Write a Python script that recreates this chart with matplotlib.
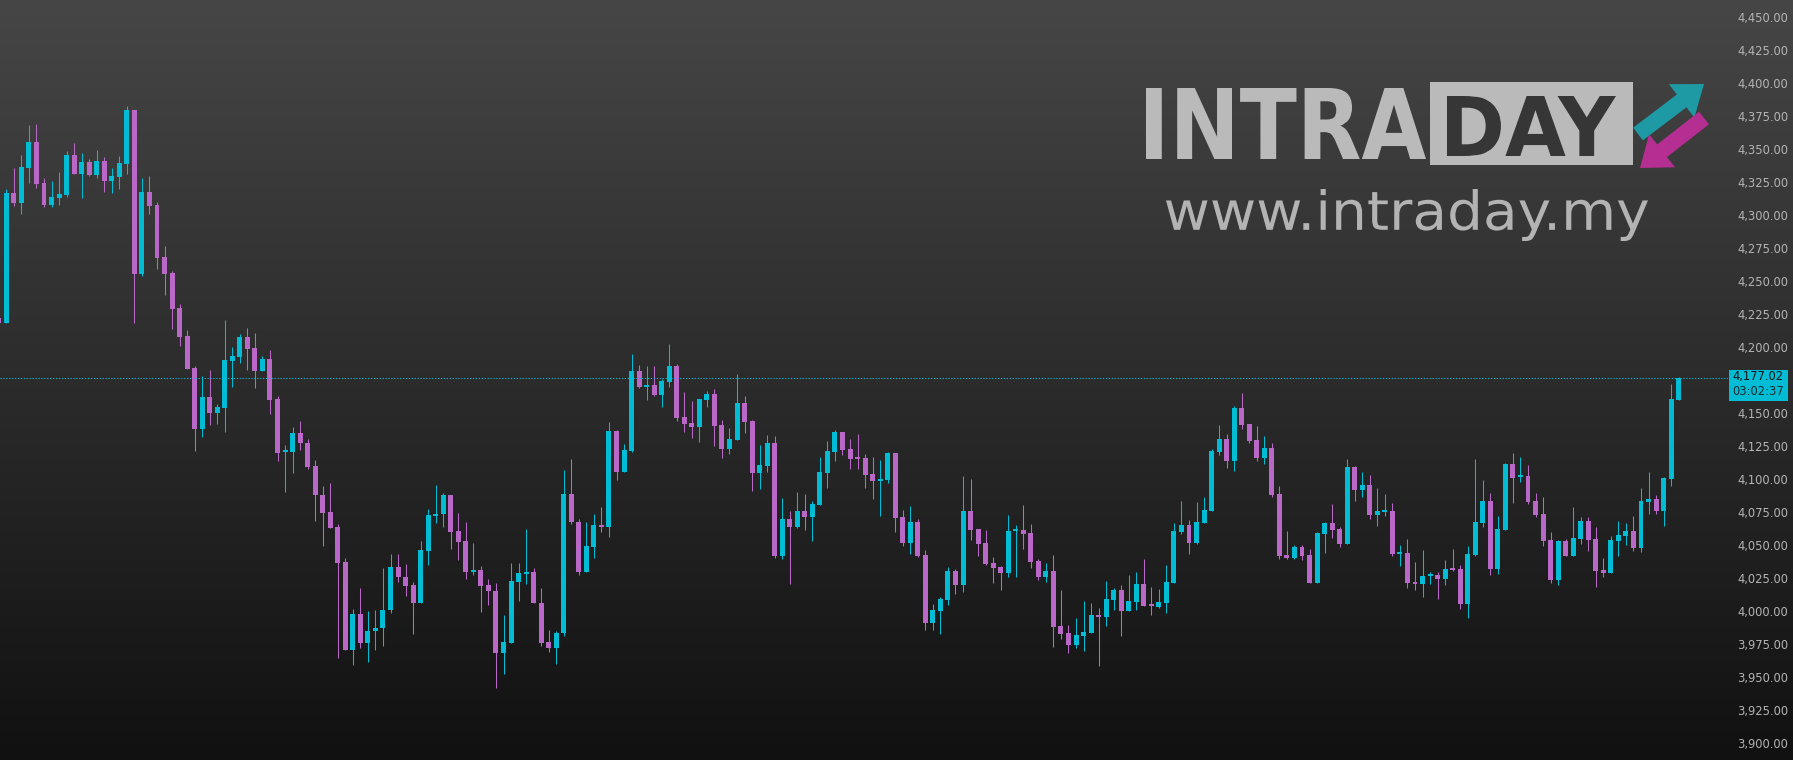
import numpy as np
import matplotlib
matplotlib.use('Agg')
import matplotlib.pyplot as plt
from matplotlib.ticker import FuncFormatter
from matplotlib.patches import Rectangle, PathPatch, FancyArrow
from matplotlib.textpath import TextPath
from matplotlib.font_manager import FontProperties
from matplotlib.transforms import Affine2D

# candle data, oldest first
opens = [4222.0, 4218.7, 4316.9, 4309.6, 4336.1, 4355.5, 4324.4, 4308.0, 4313.3, 4315.6,
         4345.7, 4331.5, 4340.4, 4330.8, 4341.1, 4326.2, 4329.3, 4339.1, 4379.7, 4255.8,
         4317.6, 4307.8, 4268.4, 4256.3, 4229.8, 4208.5, 4184.3, 4138.4, 4162.3, 4150.5,
         4154.3, 4189.9, 4192.9, 4207.8, 4199.5, 4182.3, 4191.1, 4160.8, 4120.3, 4121.0,
         4135.2, 4127.6, 4110.1, 4088.2, 4075.3, 4063.9, 4037.4, 3971.0, 3998.0, 3975.6,
         3984.7, 3987.0, 4000.6, 4033.6, 4026.1, 4020.0, 4006.6, 4046.0, 4072.5, 4073.3,
         4088.2, 4060.9, 4053.3, 4030.1, 4031.4, 4020.0, 4015.5, 3968.0, 3976.3, 4022.5,
         4028.4, 4029.9, 4006.4, 3976.8, 3972.5, 3983.2, 4089.0, 4067.6, 4029.8, 4048.7,
         4065.4, 4063.8, 4136.7, 4105.6, 4121.5, 4182.1, 4170.0, 4171.5, 4164.0, 4173.8,
         4185.9, 4147.3, 4142.8, 4139.7, 4160.2, 4164.7, 4141.2, 4123.1, 4129.9, 4157.9,
         4144.3, 4104.9, 4110.2, 4127.5, 4042.2, 4069.9, 4064.1, 4076.0, 4071.7, 4080.8,
         4105.0, 4120.9, 4135.8, 4123.0, 4116.4, 4116.1, 4104.0, 4099.0, 4099.7, 4119.9,
         4071.4, 4052.0, 4067.7, 4042.7, 3991.2, 4000.3, 4008.6, 4030.6, 4020.0, 4076.0,
         4062.4, 4051.8, 4036.6, 4033.6, 4029.1, 4060.9, 4061.6, 4059.4, 4038.1, 4026.0,
         4030.6, 3988.9, 3983.6, 3974.5, 3981.3, 3983.6, 3997.2, 3995.7, 4008.6, 4016.2,
         4000.3, 4007.1, 4020.7, 4004.8, 4003.3, 4006.3, 4021.5, 4060.1, 4065.4, 4051.8,
         4066.9, 4076.0, 4120.7, 4130.5, 4113.9, 4154.0, 4141.9, 4129.8, 4116.1, 4123.7,
         4088.9, 4042.7, 4040.4, 4048.7, 4042.6, 4021.4, 4058.5, 4066.9, 4062.3, 4051.0,
         4109.4, 4091.9, 4095.7, 4073.0, 4075.3, 4076.0, 4043.4, 4044.2, 4022.2, 4020.7,
         4026.7, 4027.5, 4024.5, 4032.0, 4032.0, 4005.5, 4042.6, 4067.0, 4083.6, 4032.0,
         4061.6, 4111.6, 4101.8, 4102.5, 4083.6, 4073.8, 4054.1, 4023.7, 4053.3, 4041.9,
         4054.8, 4068.4, 4054.8, 4031.3, 4029.1, 4053.3, 4057.1, 4060.9, 4048.0, 4082.8,
         4085.1, 4076.0, 4100.3, 4160.1]
highs = [4226.0, 4319.9, 4335.8, 4345.7, 4368.4, 4369.1, 4328.2, 4326.0, 4332.8, 4348.7,
         4354.8, 4347.2, 4342.6, 4349.4, 4344.1, 4335.8, 4344.9, 4382.8, 4379.7, 4328.2,
         4329.8, 4310.1, 4276.7, 4257.8, 4232.8, 4213.1, 4185.8, 4178.3, 4182.8, 4157.0,
         4220.7, 4200.2, 4210.1, 4214.6, 4210.8, 4193.4, 4197.9, 4163.1, 4126.1, 4139.7,
         4144.2, 4130.6, 4114.7, 4095.0, 4097.3, 4066.2, 4040.5, 4001.8, 4017.7, 4000.3,
         4001.1, 4032.9, 4043.5, 4043.5, 4035.9, 4022.3, 4053.3, 4077.6, 4095.8, 4089.7,
         4088.2, 4074.6, 4067.7, 4051.8, 4034.4, 4024.6, 4021.5, 3997.3, 4036.7, 4036.7,
         4062.4, 4032.9, 4017.7, 3985.9, 3985.2, 4107.1, 4115.5, 4070.0, 4067.6, 4073.7,
         4079.0, 4143.5, 4137.4, 4126.8, 4195.0, 4186.7, 4185.9, 4185.9, 4176.1, 4202.6,
         4187.4, 4166.2, 4159.4, 4160.9, 4167.0, 4168.5, 4145.0, 4139.0, 4179.9, 4163.2,
         4145.0, 4126.1, 4133.7, 4132.8, 4085.8, 4076.0, 4090.4, 4088.9, 4083.6, 4116.9,
         4129.0, 4137.3, 4135.8, 4130.5, 4134.3, 4119.2, 4116.9, 4114.6, 4120.7, 4119.9,
         4076.7, 4079.8, 4069.9, 4046.5, 4005.6, 4010.9, 4033.6, 4032.1, 4102.5, 4100.2,
         4062.4, 4061.6, 4041.2, 4034.4, 4073.0, 4065.4, 4080.5, 4066.2, 4039.7, 4036.6,
         4042.7, 4016.2, 3989.7, 3995.0, 4007.8, 4006.3, 4002.5, 4023.0, 4017.7, 4020.0,
         4027.5, 4029.8, 4039.7, 4018.4, 4016.9, 4035.1, 4066.9, 4083.6, 4069.2, 4082.8,
         4086.6, 4123.0, 4141.1, 4134.3, 4155.5, 4165.4, 4141.9, 4140.4, 4132.8, 4127.5,
         4094.9, 4060.9, 4050.2, 4050.2, 4047.2, 4060.1, 4067.6, 4081.3, 4063.9, 4115.4,
         4110.1, 4105.6, 4103.3, 4093.5, 4088.9, 4082.1, 4050.2, 4054.8, 4037.3, 4046.4,
         4029.8, 4029.8, 4038.8, 4047.2, 4035.1, 4049.5, 4115.4, 4099.5, 4089.7, 4072.2,
         4112.1, 4120.0, 4116.9, 4110.9, 4089.7, 4086.6, 4060.1, 4054.1, 4054.8, 4079.0,
         4071.5, 4071.5, 4063.9, 4040.4, 4057.1, 4068.4, 4066.9, 4072.2, 4093.4, 4105.6,
         4088.1, 4101.8, 4172.2, 4177.5]
lows = [4214.0, 4218.7, 4307.3, 4301.2, 4324.7, 4320.9, 4306.5, 4306.5, 4308.0, 4314.1,
        4331.5, 4313.3, 4330.0, 4328.5, 4317.9, 4317.1, 4320.2, 4331.5, 4218.7, 4254.3,
        4301.2, 4259.6, 4239.9, 4214.1, 4201.2, 4183.8, 4121.7, 4132.3, 4141.4, 4142.1,
        4136.1, 4170.2, 4188.4, 4183.1, 4169.4, 4182.3, 4149.7, 4114.1, 4090.7, 4105.1,
        4122.5, 4107.4, 4068.0, 4049.8, 4063.4, 3964.2, 3971.0, 3958.9, 3971.8, 3961.9,
        3971.0, 3973.3, 3998.3, 4021.8, 4011.2, 3982.4, 4005.9, 4035.4, 4067.2, 4064.2,
        4047.5, 4039.2, 4024.1, 4027.1, 3999.1, 4005.1, 3941.5, 3952.1, 3976.3, 4008.1,
        4020.3, 4005.9, 3973.3, 3969.5, 3959.7, 3980.9, 4066.0, 4027.5, 4029.8, 4040.4,
        4060.1, 4056.3, 4099.6, 4105.6, 4120.8, 4169.3, 4160.2, 4163.2, 4154.9, 4170.0,
        4144.3, 4135.9, 4131.4, 4128.4, 4154.9, 4125.3, 4116.2, 4119.3, 4129.9, 4135.2,
        4091.2, 4092.8, 4105.6, 4040.6, 4039.9, 4020.9, 4063.4, 4061.9, 4053.5, 4080.8,
        4093.7, 4114.1, 4118.7, 4108.1, 4108.1, 4093.7, 4085.3, 4072.5, 4097.5, 4060.3,
        4049.7, 4043.7, 4041.2, 3985.9, 3985.9, 3982.8, 4004.8, 4013.1, 4014.7, 4054.0,
        4041.9, 4035.3, 4021.5, 4016.2, 4026.0, 4026.0, 4047.2, 4032.8, 4023.7, 4022.2,
        3973.0, 3979.1, 3968.5, 3972.2, 3970.0, 3983.6, 3958.6, 3988.9, 4001.0, 3981.3,
        4000.3, 4001.0, 4004.1, 3997.2, 4002.5, 3998.8, 4021.5, 4058.6, 4043.4, 4051.0,
        4066.9, 4076.0, 4118.4, 4108.6, 4106.3, 4138.1, 4127.5, 4113.9, 4111.6, 4086.6,
        4039.7, 4039.7, 4039.6, 4038.8, 4021.4, 4021.4, 4044.2, 4055.5, 4048.7, 4051.0,
        4083.6, 4086.6, 4070.0, 4064.7, 4072.3, 4041.9, 4034.3, 4017.6, 4016.1, 4010.8,
        4020.7, 4009.3, 4019.9, 4030.5, 4001.7, 3994.9, 4041.9, 4063.9, 4027.5, 4028.2,
        4061.6, 4082.1, 4098.0, 4081.3, 4071.5, 4049.5, 4021.5, 4020.0, 4041.9, 4041.9,
        4051.0, 4045.7, 4018.4, 4026.0, 4029.1, 4041.9, 4050.3, 4045.7, 4045.0, 4073.7,
        4073.7, 4064.6, 4095.0, 4160.1]
closes = [4218.7, 4316.9, 4309.6, 4336.6, 4355.5, 4323.9, 4308.0, 4313.8, 4316.1, 4345.7,
          4331.5, 4340.4, 4330.8, 4341.1, 4326.2, 4329.8, 4339.6, 4379.7, 4255.8, 4317.6,
          4307.3, 4267.9, 4255.8, 4229.3, 4208.0, 4183.8, 4138.4, 4162.3, 4150.5, 4154.8,
          4190.4, 4193.4, 4207.8, 4199.0, 4182.3, 4191.1, 4160.3, 4120.2, 4121.8, 4135.2,
          4127.1, 4109.6, 4087.7, 4074.8, 4063.4, 4036.9, 3971.0, 3998.0, 3975.6, 3985.2,
          3987.4, 4001.1, 4033.6, 4025.6, 4019.5, 4006.6, 4046.5, 4073.0, 4073.8, 4088.2,
          4060.4, 4052.8, 4030.1, 4031.4, 4019.5, 4015.0, 3968.0, 3976.8, 4023.0, 4029.1,
          4029.9, 4005.9, 3976.3, 3972.5, 3983.7, 4088.9, 4067.3, 4029.8, 4049.5, 4065.4,
          4063.8, 4136.7, 4105.6, 4122.3, 4182.1, 4170.0, 4171.5, 4164.0, 4174.6, 4185.9,
          4146.5, 4142.0, 4139.7, 4160.9, 4164.7, 4140.5, 4123.1, 4130.6, 4157.9, 4143.5,
          4104.9, 4110.9, 4127.6, 4042.2, 4069.9, 4064.1, 4076.0, 4071.7, 4081.3, 4105.5,
          4121.4, 4135.8, 4122.5, 4115.6, 4115.6, 4103.5, 4099.0, 4100.2, 4119.9, 4070.9,
          4052.0, 4067.7, 4042.2, 3991.2, 4001.0, 4009.4, 4030.6, 4020.0, 4076.0, 4061.6,
          4051.2, 4036.1, 4032.8, 4029.1, 4060.9, 4061.6, 4058.6, 4037.4, 4026.0, 4030.6,
          3988.1, 3982.8, 3974.5, 3982.1, 3984.4, 3997.2, 3995.7, 4009.4, 4016.2, 4000.3,
          4007.8, 4020.7, 4004.1, 4004.1, 4007.1, 4022.2, 4060.9, 4065.4, 4051.8, 4067.7,
          4076.7, 4121.4, 4130.5, 4113.9, 4154.0, 4141.1, 4129.0, 4116.1, 4123.7, 4088.1,
          4041.9, 4040.4, 4048.7, 4041.9, 4021.4, 4059.3, 4066.9, 4061.6, 4051.0, 4109.4,
          4091.9, 4095.7, 4073.0, 4076.0, 4076.0, 4043.4, 4044.2, 4021.4, 4020.7, 4026.7,
          4027.5, 4024.5, 4032.0, 4031.3, 4005.5, 4043.4, 4067.6, 4083.6, 4032.0, 4062.3,
          4111.6, 4101.0, 4102.5, 4082.8, 4073.0, 4053.3, 4023.7, 4053.3, 4041.9, 4055.6,
          4068.4, 4054.1, 4030.6, 4029.1, 4054.1, 4057.8, 4060.9, 4048.0, 4083.6, 4085.1,
          4076.0, 4101.0, 4160.9, 4177.02]
price_ticks = np.arange(3900, 4475, 25)
countdown = '03:02:37'

up_col = '#00bcd4'
down_col = '#ba68c8'
W, H = 1793, 760

fig = plt.figure(figsize=(W / 100, H / 100), dpi=100)

# background gradient + logo, drawn in pixel coords
bg = fig.add_axes([0, 0, 1, 1], zorder=0)
bg.set_xlim(0, W)
bg.set_ylim(H, 0)
bg.axis('off')
shade = np.linspace(70, 17, 256) / 255
grad = np.dstack([shade, shade, shade]).reshape(256, 1, 3)
bg.imshow(grad, extent=[0, W, H, 0], aspect='auto', interpolation='bilinear')


def fit_text(axis, s, box, color, **fontkw):
    # squeeze a text path into a pixel box (x0, x1, y_top, y_bottom)
    tp = TextPath((0, 0), s, size=100, prop=FontProperties(**fontkw))
    ext = tp.get_extents()
    x0, x1, y0, y1 = box
    tr = (Affine2D().translate(-ext.x0, -ext.y0)
          .scale((x1 - x0) / ext.width, -(y1 - y0) / ext.height)
          .translate(x0, y1))
    axis.add_patch(PathPatch(tr.transform_path(tp), facecolor=color, lw=0))


logo_gray = '#bababa'
fit_text(bg, 'INTRA', (1146, 1426, 88, 159), logo_gray, family='DejaVu Sans', weight='bold')
bg.add_patch(Rectangle((1430, 82), 203, 83, facecolor=logo_gray, lw=0))
fit_text(bg, 'DAY', (1447, 1616, 96, 156), '#363636', family='DejaVu Sans', weight='bold')
fit_text(bg, 'www.intraday.my', (1166, 1648, 189, 241), '#b3b3b3', family='DejaVu Sans')
bg.add_patch(FancyArrow(1638, 134, 66, -50, width=16, head_width=42, head_length=28,
                        length_includes_head=True, color='#1e9aa5', lw=0))
bg.add_patch(FancyArrow(1704, 118, -64, 50, width=16, head_width=42, head_length=28,
                        length_includes_head=True, color='#b52e91', lw=0))

# price chart
ax = fig.add_axes([0, 0, 1728 / W, 1], zorder=1)
ax.patch.set_alpha(0)
for sp in ax.spines.values():
    sp.set_visible(False)

x = np.arange(len(opens))
o = np.array(opens)
c = np.array(closes)
cols = [up_col if cc >= oo else down_col for oo, cc in zip(o, c)]
ax.vlines(x, lows, highs, colors=cols, linewidth=0.75)
bottoms = np.minimum(o, c)
heights = np.maximum(np.abs(c - o), 1.5)
ax.bar(x, heights, bottom=bottoms, width=0.66, color=cols, linewidth=0)

ax.axhline(closes[-1], color=up_col, lw=0.75, dashes=(1.2, 1.6))


def price_fmt(v, pos):
    # the scale label that sits under the last-price box is covered in the original
    if abs(v - closes[-1]) < 12:
        return ''
    return f'{v:,.2f}'


ax.set_xlim(0.16, 229.55)
ax.set_ylim(3887.3, 4463.1)
ax.set_xticks([])
ax.yaxis.tick_right()
ax.set_yticks(price_ticks)
ax.yaxis.set_major_formatter(FuncFormatter(price_fmt))
ax.tick_params(axis='y', length=0, pad=6.5, labelsize=8.3, labelcolor='#b4b4b4')

# last price label on the scale
ov = fig.add_axes([0, 0, 1, 1], zorder=3)
ov.set_xlim(0, W)
ov.set_ylim(H, 0)
ov.axis('off')
ov.patch.set_alpha(0)
y_last = ov.transData.inverted().transform(ax.transData.transform((0, closes[-1])))[1]
ov.add_patch(Rectangle((1729, y_last - 8), 59, 31, facecolor=up_col, lw=0))
ov.text(1784, y_last - 1, f'{closes[-1]:,.2f}', ha='right', va='center',
        fontsize=8.3, color='#141414')
ov.text(1784, y_last + 14, countdown, ha='right', va='center',
        fontsize=8.3, color='#1f2a2e')

fig.savefig('out.png', dpi=100)
